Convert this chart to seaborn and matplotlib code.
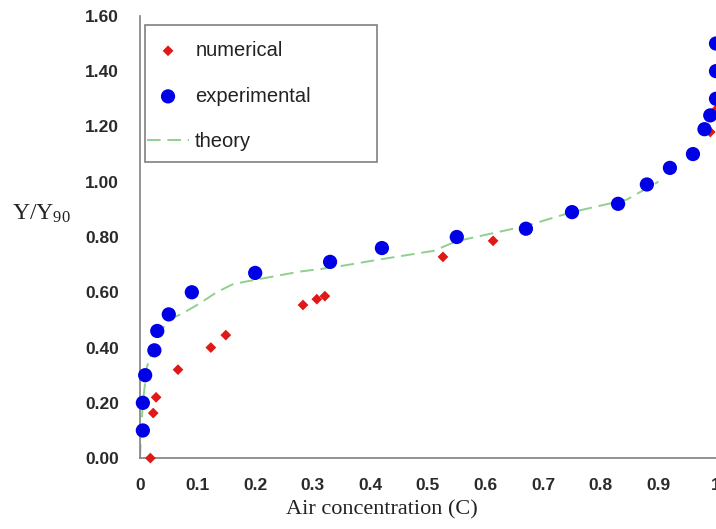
import numpy as np
import pandas as pd
import matplotlib
matplotlib.use("Agg")
import matplotlib.pyplot as plt
import seaborn as sns
from matplotlib.patches import Rectangle
from matplotlib.ticker import MultipleLocator, FuncFormatter

# ---------------------------------------------------
# data
# ---------------------------------------------------
num_c = [0.018, 0.023, 0.028, 0.066, 0.123, 0.149, 0.283, 0.307, 0.321,
         0.526, 0.613, 0.92, 0.99, 1.0]
num_y = [0.00, 0.163, 0.22, 0.32, 0.40, 0.445, 0.554, 0.575, 0.586,
         0.728, 0.786, 1.045, 1.18, 1.26]

exp_c = [0.005, 0.005, 0.009, 0.025, 0.03, 0.05, 0.09, 0.2, 0.33, 0.42,
         0.55, 0.67, 0.75, 0.83, 0.88, 0.92, 0.96, 0.98, 0.99, 1.0, 1.0, 1.0]
exp_y = [0.10, 0.20, 0.30, 0.39, 0.46, 0.52, 0.60, 0.67, 0.71, 0.76,
         0.80, 0.83, 0.89, 0.92, 0.99, 1.05, 1.10, 1.19, 1.24, 1.30, 1.40, 1.50]

th_c = [0.0, 0.002, 0.005, 0.012, 0.03, 0.05, 0.075, 0.104, 0.133, 0.162,
        0.2, 0.278, 0.335, 0.42, 0.51, 0.55, 0.67, 0.75, 0.845, 0.9]
th_y = [0.0, 0.10, 0.20, 0.33, 0.44, 0.50, 0.525, 0.56, 0.60, 0.63,
        0.645, 0.675, 0.69, 0.72, 0.75, 0.785, 0.84, 0.89, 0.935, 1.0]

num_df = pd.DataFrame({"C": num_c, "Y": num_y})
exp_df = pd.DataFrame({"C": exp_c, "Y": exp_y})
th_df = pd.DataFrame({"C": th_c, "Y": th_y})

# ---------------------------------------------------
# plot
# ---------------------------------------------------
sns.set_style("white")
plt.rcParams["font.family"] = ["Liberation Sans", "DejaVu Sans"]
plt.rcParams["mathtext.default"] = "regular"

fig = plt.figure(figsize=(7.16, 5.29), dpi=100)
ax = fig.add_axes([0.1955, 0.134, 0.8045, 0.836])

sns.lineplot(data=th_df, x="C", y="Y", ax=ax, sort=False, color="#8fd08f",
             linestyle=(0, (7, 3.5)), linewidth=1.4, label="theory", zorder=2)
sns.scatterplot(data=num_df, x="C", y="Y", ax=ax, marker="D", s=30,
                color="#e01818", edgecolor="none", label="numerical",
                zorder=3, clip_on=False)
sns.scatterplot(data=exp_df, x="C", y="Y", ax=ax, marker="o", s=105,
                color="#0000e6", edgecolor="none", label="experimental",
                zorder=4, clip_on=False)

ax.set_xlim(0, 1)
ax.set_ylim(0, 1.6)

ax.xaxis.set_major_locator(MultipleLocator(0.1))
ax.yaxis.set_major_locator(MultipleLocator(0.2))
ax.yaxis.set_minor_locator(MultipleLocator(0.1))
ax.xaxis.set_major_formatter(FuncFormatter(lambda v, p: f"{v:g}"))
ax.yaxis.set_major_formatter(FuncFormatter(lambda v, p: f"{v:.2f}"))

for side in ["top", "right"]:
    ax.spines[side].set_visible(False)
for side in ["left", "bottom"]:
    ax.spines[side].set_color("#808080")
    ax.spines[side].set_linewidth(1.2)

ax.tick_params(axis="both", which="major", direction="out", length=6,
               width=1.1, color="#808080", labelsize=12.5, labelcolor="#2a2a2a")
ax.tick_params(axis="y", which="minor", direction="out", length=4,
               width=1.0, color="#808080")
ax.tick_params(axis="x", pad=8)
ax.tick_params(axis="y", pad=9)
for lab in ax.get_xticklabels() + ax.get_yticklabels():
    lab.set_fontweight("bold")

ax.set_xlabel("Air concentration (C)", family="Liberation Serif",
              fontsize=16, color="#222222")
ax.xaxis.set_label_coords(0.42, -0.095)
ax.set_ylabel("Y/Y$_{90}$", family="Liberation Serif", fontsize=17,
              color="#222222", rotation=0, va="center", ha="center")
ax.yaxis.set_label_coords(-0.172, 0.552)

# legend: entries without frame, box drawn separately
handles, labels = ax.get_legend_handles_labels()
order = [labels.index(n) for n in ["numerical", "experimental", "theory"]]
leg = ax.legend([handles[i] for i in order], [labels[i] for i in order],
                loc="upper left", bbox_to_anchor=(0.012, 0.943),
                frameon=False, fontsize=14.5, labelspacing=1.32,
                handlelength=2.1, handletextpad=0.3,
                borderpad=0, borderaxespad=0)
for t in leg.get_texts():
    t.set_color("#222222")
ax.add_patch(Rectangle((0.0087, 0.6697), 0.4023, 0.3099, transform=ax.transAxes,
                       facecolor="white", edgecolor="#808080", linewidth=1.2,
                       zorder=4.5))
leg.set_zorder(5)

fig.savefig("out.png", dpi=100)
